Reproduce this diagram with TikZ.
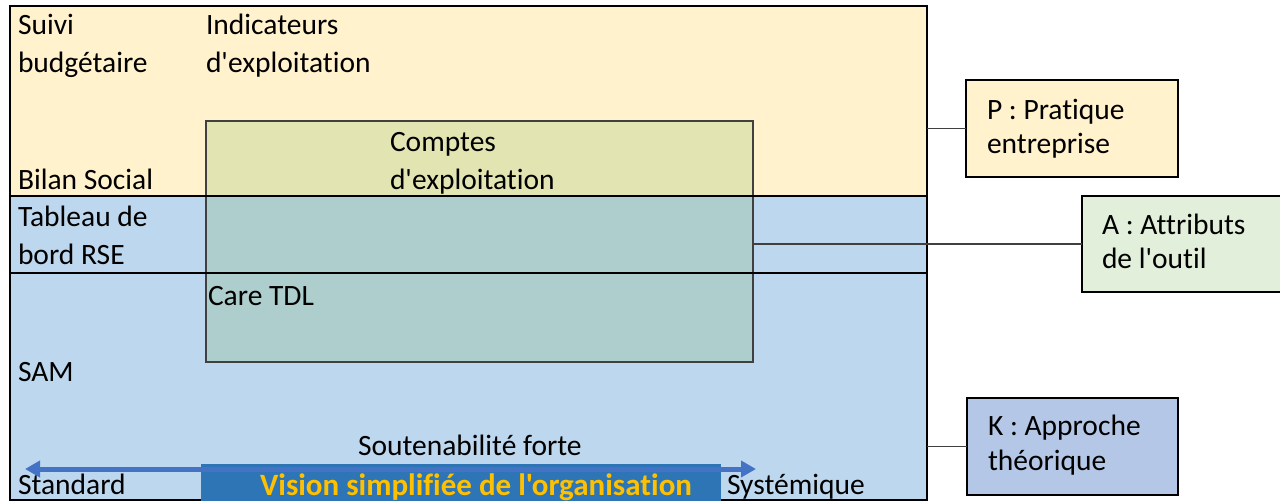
\documentclass[tikz,border=0pt]{standalone}
\usepackage{fontspec}
\setmainfont{Carlito}[Ligatures={TeXOff,NoCommon}]
\usetikzlibrary{arrows.meta}
\definecolor{ylw}{HTML}{FFF2CC}
\definecolor{blu}{HTML}{BDD7EE}
\definecolor{grn}{HTML}{70AD47}
\definecolor{agrn}{HTML}{E2EFDA}
\definecolor{kblu}{HTML}{B4C7E7}
\definecolor{dblu}{HTML}{2E75B6}
\definecolor{arrblu}{HTML}{4472C4}
\definecolor{orng}{HTML}{FFC000}
\definecolor{edge}{HTML}{404040}
\begin{document}
\begin{tikzpicture}[x=1pt,y=-1pt,
  area/.style={inner sep=0,outer sep=0,anchor=north west,draw=none},
  sidebox/.style={draw=black,line width=2.2pt,inner sep=0,outer sep=0,anchor=north west},
  lbl/.style={anchor=base west,inner sep=0,outer sep=0,font=\fontsize{29.5}{36}\selectfont},
  conn/.style={draw=edge,line width=1.4pt},
  sep/.style={draw=black,line width=2pt}]
\useasboundingbox (0,0) rectangle (1280,503);
% main areas
\node[area,fill=ylw,minimum width=917pt,minimum height=190pt] (top) at (10,6) {};
\node[area,fill=blu,minimum width=917pt,minimum height=304pt] (bot) at (10,196) {};
% inner overlapping rectangle
\node[area,draw=edge,line width=1.4pt,fill=grn,fill opacity=0.2,minimum width=547pt,minimum height=241pt] (inner) at (206,121) {};
% separators
\coordinate (s2w) at (10,273);
\coordinate (s2e) at (927,273);
\draw[sep] (top.south west) -- (top.south east);
\draw[sep] (s2w) -- (s2e);
\draw[line width=2.2pt] (top.north west) rectangle (bot.south east);
% bottom banner
\node[area,fill=dblu,minimum width=520pt,minimum height=37pt] (vis) at (201,464) {};
\node[anchor=base,inner sep=0,font=\fontsize{31}{36}\selectfont\bfseries,text=orng] (vist) at (476,495) {Vision simplifiée de l'organisation};
\coordinate (al) at (25,469);
\coordinate (ar) at (756,469);
\draw[draw=arrblu,line width=5pt,{Triangle[length=15pt,width=16pt]}-{Triangle[length=15pt,width=16pt]}] (al) -- (ar);
% labels in main area
\node[lbl] (t1) at (18,35) {Suivi};
\node[lbl] (t2) at (18,73) {budgétaire};
\node[lbl] (t3) at (206,35) {Indicateurs};
\node[lbl] (t4) at (206,73) {d'exploitation};
\node[lbl] (t5) at (18,189) {Bilan Social};
\node[lbl] (t6) at (18,226) {Tableau de};
\node[lbl] (t7) at (18,264) {bord RSE};
\node[lbl] (t8) at (208,305) {Care TDL};
\node[lbl] (t9) at (18,381) {SAM};
\node[lbl] (t10) at (390,151) {Comptes};
\node[lbl] (t11) at (390,189) {d'exploitation};
\node[lbl] (t12) at (358,455) {Soutenabilité forte};
\node[lbl] (t13) at (18,494) {Standard};
\node[lbl] (t14) at (727,494) {Systémique};
% side boxes
\node[sidebox,fill=ylw,minimum width=212pt,minimum height=97pt] (P) at (966,80) {};
\node[sidebox,fill=agrn,minimum width=210pt,minimum height=96pt] (A) at (1082,196) {};
\node[sidebox,fill=kblu,minimum width=211pt,minimum height=97pt] (K) at (967,398) {};
\node[lbl] (p1) at (987,119) {P : Pratique};
\node[lbl] (p2) at (987,153) {entreprise};
\node[lbl] (a1) at (1102,234) {A : Attributs};
\node[lbl] (a2) at (1102,268) {de l'outil};
\node[lbl] (k1) at (988,435) {K : Approche};
\node[lbl] (k2) at (988,470) {théorique};
% connectors
\draw[conn] (bot.east |- P.west) -- (P.west);
\draw[conn] (inner.east |- A.west) -- (A.west);
\draw[conn] (bot.east |- K.west) -- (K.west);
\end{tikzpicture}
\end{document}
